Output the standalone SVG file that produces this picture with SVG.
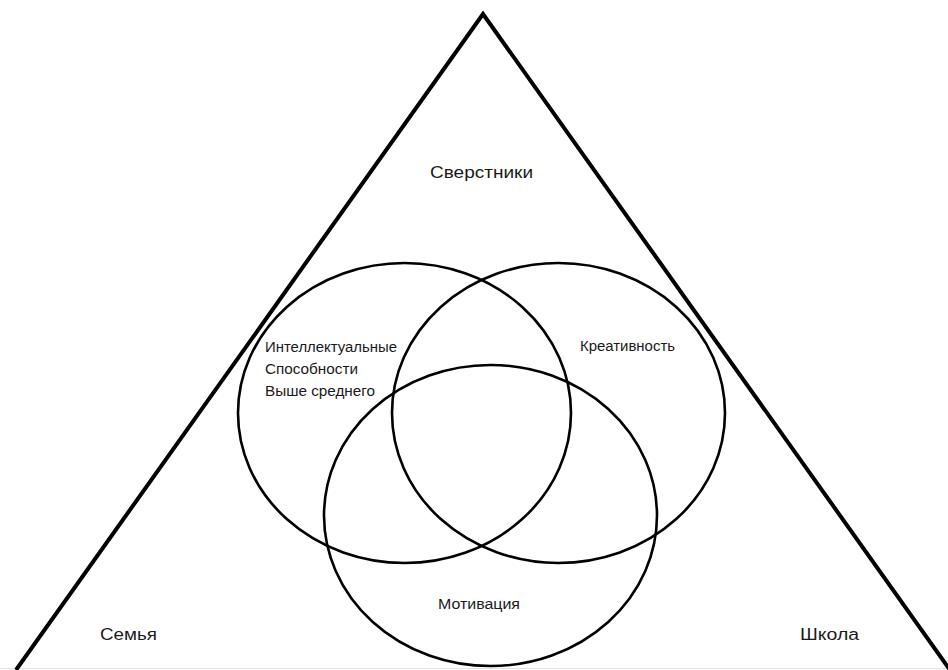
<svg xmlns="http://www.w3.org/2000/svg" width="948" height="670" viewBox="0 0 948 670">
<style>
.tri{fill:none;stroke:#000;stroke-width:4;stroke-linejoin:miter}
.c{fill:none;stroke:#000;stroke-width:2.6}
.t{font-family:"Liberation Sans",Arial,sans-serif;font-size:14px;fill:#1a1a1a}
.tb{font-family:"Liberation Sans",Arial,sans-serif;font-size:16px;fill:#1a1a1a}
</style>
<rect width="948" height="670" fill="#fff"/>
<line x1="0" y1="668.5" x2="948" y2="668.5" stroke="#e2e2e2" stroke-width="1"/>
<g id="triangle">
<polyline class="tri" points="16,670 483,14 950,670"/>
</g>
<g id="connectors"></g>
<g id="intellect">
<ellipse class="c" cx="404.5" cy="413" rx="166.5" ry="150"/>
<text class="t" x="265" y="352" textLength="132" lengthAdjust="spacingAndGlyphs">Интеллектуальные</text>
<text class="t" x="265" y="374" textLength="93" lengthAdjust="spacingAndGlyphs">Способности</text>
<text class="t" x="265" y="396" textLength="110" lengthAdjust="spacingAndGlyphs">Выше среднего</text>
</g>
<g id="creativity">
<ellipse class="c" cx="558.5" cy="413" rx="166.5" ry="150"/>
<text class="t" x="580" y="351" textLength="95" lengthAdjust="spacingAndGlyphs">Креативность</text>
</g>
<g id="motivation">
<ellipse class="c" cx="490.5" cy="515.5" rx="166.5" ry="150.5"/>
<text class="t" x="438" y="609" textLength="82" lengthAdjust="spacingAndGlyphs">Мотивация</text>
</g>
<g id="peers">
<text class="tb" x="430" y="178" textLength="103" lengthAdjust="spacingAndGlyphs">Сверстники</text>
</g>
<g id="family">
<text class="tb" x="100" y="640" textLength="57" lengthAdjust="spacingAndGlyphs">Семья</text>
</g>
<g id="school">
<text class="tb" x="800" y="640" textLength="59" lengthAdjust="spacingAndGlyphs">Школа</text>
</g>
</svg>
